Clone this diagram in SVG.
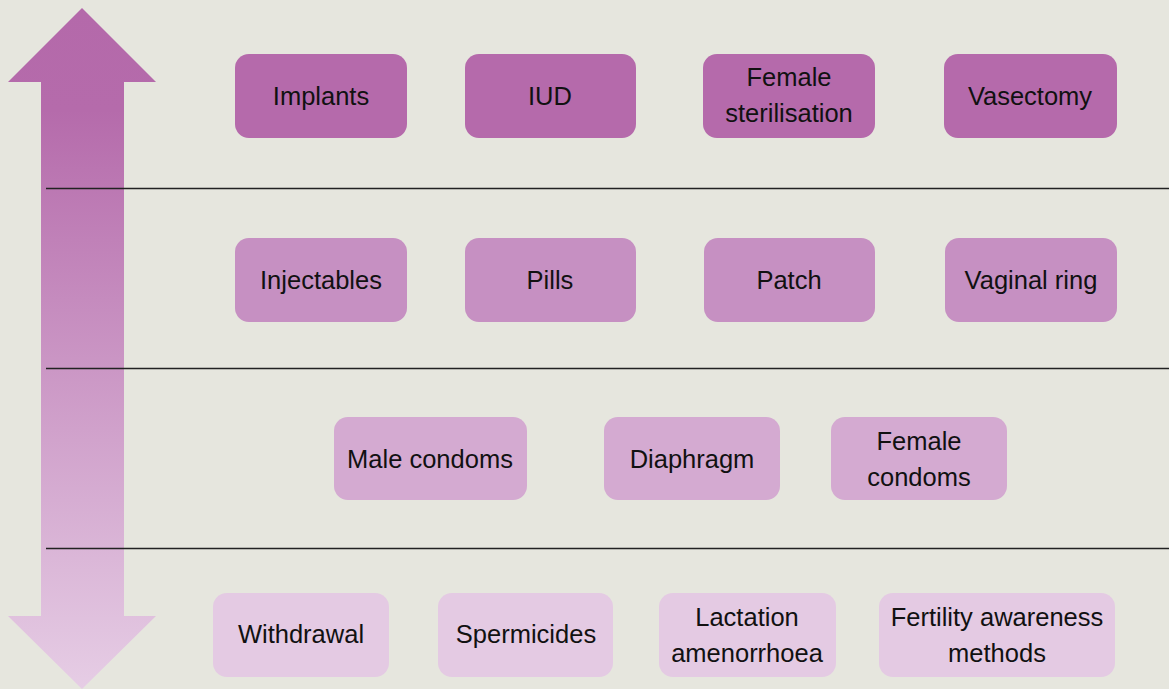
<svg xmlns="http://www.w3.org/2000/svg" width="1169" height="689" viewBox="0 0 1169 689">
<defs>
<linearGradient id="ag" x1="0" y1="0" x2="0" y2="1">
<stop offset="0" stop-color="#b469aa"/>
<stop offset="0.15" stop-color="#b56bab"/>
<stop offset="1" stop-color="#e6cde5"/>
</linearGradient>
<style>
text{font-family:"Liberation Sans",Arial,sans-serif;font-size:25.5px;fill:#111;text-anchor:middle}
.r1{fill:#b56aab}.r2{fill:#c690c2}.r3{fill:#d4aad1}.r4{fill:#e4cae3}
.sep{stroke:#222;stroke-width:1.5}
</style>
</defs>
<rect width="1169" height="689" fill="#e6e6de"/>
<g id="arrow">
<polygon points="82,8 156,82 124,82 124,616 156,616 82,689 8,616 41,616 41,82 8,82" fill="url(#ag)"/>
</g>
<g id="connectors">
<line class="sep" x1="46" y1="188.5" x2="1169" y2="188.5"/>
<line class="sep" x1="46" y1="368.5" x2="1169" y2="368.5"/>
<line class="sep" x1="46" y1="548.5" x2="1169" y2="548.5"/>
</g>
<g id="implants"><rect class="r1" x="235" y="54" width="172" height="84" rx="14"/><text x="321" y="105">Implants</text></g>
<g id="iud"><rect class="r1" x="465" y="54" width="171" height="84" rx="14"/><text x="550" y="105">IUD</text></g>
<g id="female-sterilisation"><rect class="r1" x="703" y="54" width="172" height="84" rx="14"/><text x="789" y="86">Female</text><text x="789" y="122">sterilisation</text></g>
<g id="vasectomy"><rect class="r1" x="944" y="54" width="173" height="84" rx="14"/><text x="1030" y="105">Vasectomy</text></g>
<g id="injectables"><rect class="r2" x="235" y="238" width="172" height="84" rx="14"/><text x="321" y="289">Injectables</text></g>
<g id="pills"><rect class="r2" x="465" y="238" width="171" height="84" rx="14"/><text x="550" y="289">Pills</text></g>
<g id="patch"><rect class="r2" x="704" y="238" width="171" height="84" rx="14"/><text x="789" y="289">Patch</text></g>
<g id="vaginal-ring"><rect class="r2" x="945" y="238" width="172" height="84" rx="14"/><text x="1031" y="289">Vaginal ring</text></g>
<g id="male-condoms"><rect class="r3" x="334" y="417" width="193" height="83" rx="14"/><text x="430" y="468">Male condoms</text></g>
<g id="diaphragm"><rect class="r3" x="604" y="417" width="176" height="83" rx="14"/><text x="692" y="468">Diaphragm</text></g>
<g id="female-condoms"><rect class="r3" x="831" y="417" width="176" height="83" rx="14"/><text x="919" y="450">Female</text><text x="919" y="486">condoms</text></g>
<g id="withdrawal"><rect class="r4" x="213" y="593" width="176" height="84" rx="14"/><text x="301" y="643">Withdrawal</text></g>
<g id="spermicides"><rect class="r4" x="438" y="593" width="175" height="84" rx="14"/><text x="526" y="643">Spermicides</text></g>
<g id="lactation"><rect class="r4" x="659" y="593" width="177" height="84" rx="14"/><text x="747" y="626">Lactation</text><text x="747" y="662">amenorrhoea</text></g>
<g id="fertility"><rect class="r4" x="879" y="593" width="236" height="84" rx="14"/><text x="997" y="626">Fertility awareness</text><text x="997" y="662">methods</text></g>
</svg>
